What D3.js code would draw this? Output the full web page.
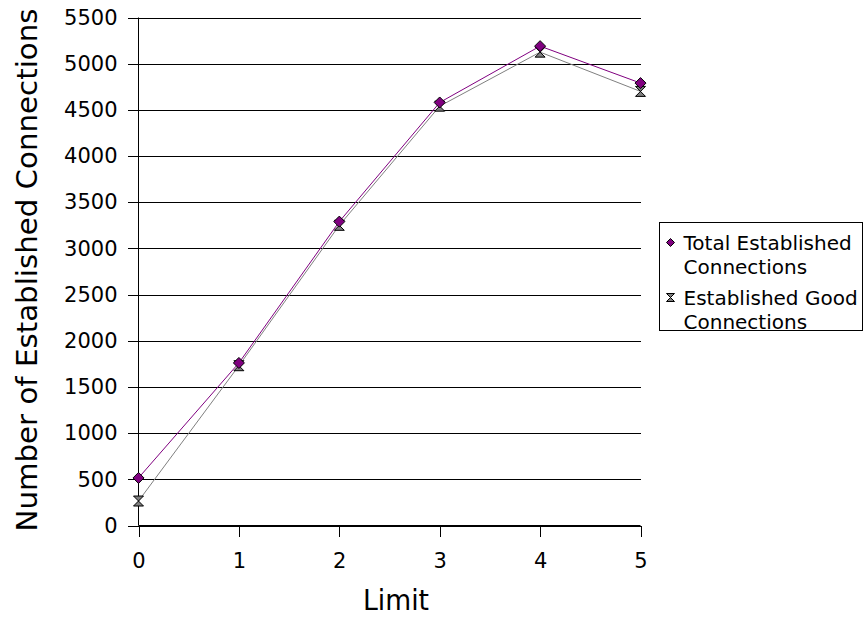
<!DOCTYPE html>
<html>
<head>
<meta charset="utf-8">
<script src="https://cdn.jsdelivr.net/npm/d3@7"></script>
<style>
  html, body { margin: 0; padding: 0; background: #fff; }
  svg { display: block; font-family: "DejaVu Sans", Verdana, sans-serif; }
</style>
</head>
<body>
<svg id="chart" width="864" height="618"></svg>
<script>
// Connection counts per limit setting
const limits = [0, 1, 2, 3, 4, 5];
const totalEstablished = [515, 1760, 3290, 4580, 5190, 4790];
const goodEstablished = [265, 1730, 3250, 4540, 5125, 4700];
const yTicks = [0, 500, 1000, 1500, 2000, 2500, 3000, 3500, 4000, 4500, 5000, 5500];
const seriesNames = ["Total Established\nConnections", "Established Good\nConnections"];

const svg = d3.select("#chart");
const x = d3.scaleLinear().domain([0, 5]).range([138, 640]);
const y = d3.scaleLinear().domain([0, 5500]).range([525, 17]);

const g = svg.append("g").attr("transform", "translate(0.5,0.5)");

// horizontal gridlines
g.append("g")
  .attr("transform", `translate(${x(0)},0)`)
  .call(d3.axisLeft(y).tickValues(yTicks).tickSize(-(x(5) - x(0))).tickFormat(""))
  .call(s => s.select(".domain").remove())
  .call(s => s.selectAll("line").attr("stroke", "#000").attr("shape-rendering", "crispEdges"));

// y axis
const yAxis = g.append("g")
  .attr("transform", `translate(${x(0)},0)`)
  .call(d3.axisLeft(y).tickValues(yTicks).tickSize(11).tickPadding(10).tickFormat(d3.format("d")));
yAxis.select(".domain").attr("stroke", "#000").attr("d", `M0,${y(0)}V${y(5500)}`);
yAxis.selectAll("line").attr("stroke", "#000").attr("shape-rendering", "crispEdges");
yAxis.selectAll("text").attr("font-size", 21).attr("font-family", "DejaVu Sans").attr("fill", "#000");

// x axis
const xAxis = g.append("g")
  .attr("transform", `translate(0,${y(0)})`)
  .call(d3.axisBottom(x).tickValues(limits).tickSize(11).tickPadding(17).tickFormat(d3.format("d")));
xAxis.select(".domain").attr("stroke", "#000").attr("d", `M${x(0)},0H${x(5)}`);
xAxis.selectAll("line").attr("stroke", "#000").attr("shape-rendering", "crispEdges");
xAxis.selectAll("text").attr("font-size", 21).attr("font-family", "DejaVu Sans").attr("fill", "#000");

// axis titles
svg.append("text")
  .attr("transform", `translate(37,${(y(0) + y(5500)) / 2 - 1}) rotate(-90)`)
  .attr("text-anchor", "middle")
  .attr("font-size", 29)
  .attr("textLength", 523).attr("lengthAdjust", "spacingAndGlyphs")
  .text("Number of Established Connections");

svg.append("text")
  .attr("x", 396).attr("y", 610)
  .attr("text-anchor", "middle")
  .attr("font-size", 29)
  .attr("textLength", 66).attr("lengthAdjust", "spacingAndGlyphs")
  .text("Limit");

// marker shapes
const diamond = s => `M0,${-s}L${s},0L0,${s}L${-s},0Z`;
const hourglass = (w, h) => `M${-w},${-h}L${w},${-h}L${-w},${h}L${w},${h}Z`;

const line = d3.line().x((d, i) => x(limits[i])).y(d => y(d));

// good connections series (drawn underneath)
g.append("path").datum(goodEstablished)
  .attr("d", line).attr("fill", "none").attr("stroke", "#808080").attr("stroke-width", 1);
g.selectAll(".good").data(goodEstablished).join("path")
  .attr("class", "good")
  .attr("transform", (d, i) => `translate(${x(limits[i])},${y(d)})`)
  .attr("d", hourglass(5, 5))
  .attr("fill", "#808080").attr("stroke", "#000").attr("stroke-width", 1);

// total connections series
g.append("path").datum(totalEstablished)
  .attr("d", line).attr("fill", "none").attr("stroke", "#800080").attr("stroke-width", 1);
g.selectAll(".total").data(totalEstablished).join("path")
  .attr("class", "total")
  .attr("transform", (d, i) => `translate(${x(limits[i])},${y(d)})`)
  .attr("d", diamond(5.5))
  .attr("fill", "#800080").attr("stroke", "#000").attr("stroke-width", 1);

// legend
const legend = g.append("g");
legend.append("rect")
  .attr("x", 659).attr("y", 222).attr("width", 203).attr("height", 108)
  .attr("fill", "#fff").attr("stroke", "#000").attr("shape-rendering", "crispEdges");

const entries = [
  { name: seriesNames[0], shape: diamond(4), fill: "#800080", y: 242 },
  { name: seriesNames[1], shape: hourglass(4, 4), fill: "#808080", y: 297 }
];
entries.forEach(e => {
  legend.append("path")
    .attr("transform", `translate(670,${e.y})`)
    .attr("d", e.shape).attr("fill", e.fill).attr("stroke", "#000").attr("stroke-width", 1);
  const t = legend.append("text")
    .attr("x", 683).attr("y", e.y + 7)
    .attr("font-size", 20).attr("fill", "#000");
  e.name.split("\n").forEach((ln, k) => {
    t.append("tspan").attr("x", 683).attr("dy", k === 0 ? 0 : 24).text(ln);
  });
});
</script>
</body>
</html>
